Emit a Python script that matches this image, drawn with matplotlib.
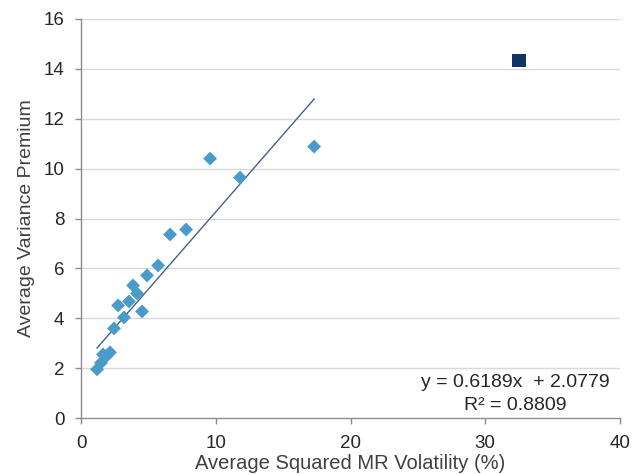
import matplotlib
matplotlib.use("Agg")
import matplotlib.pyplot as plt
import numpy as np

plt.rcParams['font.family'] = ['Liberation Sans', 'DejaVu Sans']

x_vals = [1.19, 1.48, 1.63, 1.93, 2.15, 2.45, 2.75, 3.19, 3.56, 3.86, 4.16, 4.53,
          4.90, 5.72, 6.61, 7.80, 9.58, 11.80, 17.30]
y_vals = [1.96, 2.22, 2.56, 2.52, 2.64, 3.60, 4.52, 4.04, 4.68, 5.32, 5.00, 4.28,
          5.72, 6.12, 7.36, 7.56, 10.40, 9.64, 10.88]
outlier_x = [32.5]
outlier_y = [14.32]
slope, intercept = 0.6189, 2.0779
eq_text = "y = 0.6189x  + 2.0779"
r2_text = "R² = 0.8809"
x_ticks = [0, 10, 20, 30, 40]
y_ticks = [0, 2, 4, 6, 8, 10, 12, 14, 16]

fig = plt.figure(figsize=(6.33, 4.74), dpi=100)
ax = fig.add_axes([0.128, 0.1175, 0.8515, 0.843])

for yt in y_ticks[1:]:
    ax.axhline(yt, color='#d9d9d9', lw=1.0, zorder=0)

xl = np.array([min(x_vals), max(x_vals)])
ax.plot(xl, slope * xl + intercept, color='#44608c', lw=1.0, zorder=2)
ax.scatter(x_vals, y_vals, marker='D', s=50, color='#4a9bc9', edgecolors='none', zorder=3)
ax.scatter(outlier_x, outlier_y, marker='s', s=90, color='#0e3566', edgecolors='none', zorder=3)

ax.set_xlim(0, 40)
ax.set_ylim(0, 16)
ax.set_xticks(x_ticks)
ax.set_yticks(y_ticks)
for s in ['top', 'right']:
    ax.spines[s].set_visible(False)
for s in ['left', 'bottom']:
    ax.spines[s].set_color('#8c8c8c')
    ax.spines[s].set_linewidth(1.0)
ax.tick_params(axis='both', colors='#8c8c8c', labelcolor='#262626', labelsize=13.5,
               length=4, width=1, direction='out')
ax.tick_params(axis='x', pad=8)
ax.tick_params(axis='y', pad=8)

ax.set_xlabel("Average Squared MR Volatility (%)", fontsize=14.5, color='#404040', labelpad=0)
ax.set_ylabel("Average Variance Premium", fontsize=14, color='#404040', labelpad=6)
ax.xaxis.set_label_coords(0.5, -0.09)

ax.text(32.2, 1.44, eq_text, fontsize=14, color='#262626', ha='center', va='center')
ax.text(32.2, 0.52, r2_text, fontsize=14, color='#262626', ha='center', va='center')

fig.savefig("out.png", dpi=100)
